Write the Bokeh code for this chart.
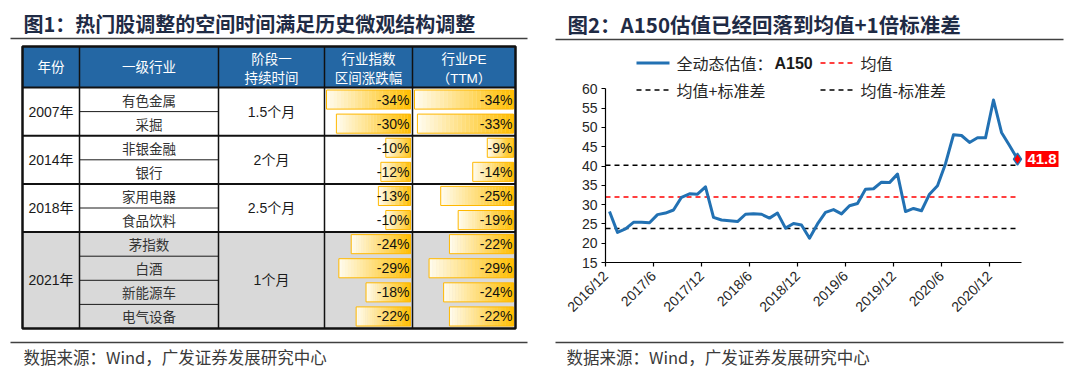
import math
from bokeh.plotting import figure
from bokeh.models import Range1d, LinearAxis, FixedTicker
from bokeh.core.properties import value
from bokeh.embed import file_html
from bokeh.resources import INLINE

# ---------------- data: table (figure 1) ----------------
title1 = "图1：热门股调整的空间时间满足历史微观结构调整"
headers = ["年份", "一级行业", "阶段一\n持续时间", "行业指数\n区间涨跌幅", "行业PE\n（TTM）"]
years = ["2007年", "2014年", "2018年", "2021年"]
year_rows = [2, 2, 2, 4]
durations = ["1.5个月", "2个月", "2.5个月", "1个月"]
industries = ["有色金属", "采掘", "非银金融", "银行", "家用电器", "食品饮料",
              "茅指数", "白酒", "新能源车", "电气设备"]
index_change = [-34, -30, -10, -12, -13, -10, -24, -29, -18, -22]
pe_change = [-34, -33, -9, -14, -25, -19, -22, -29, -24, -22]
highlight_group = 3

# ---------------- data: line chart (figure 2) ----------------
title2 = "图2：A150估值已经回落到均值+1倍标准差"
tick_labels = ["2016/12", "2017/6", "2017/12", "2018/6", "2018/12",
               "2019/6", "2019/12", "2020/6", "2020/12"]
a150_pe = [28.2, 22.8, 23.7, 25.4, 25.4, 25.3, 27.4, 27.8, 28.6, 31.9, 32.8, 32.7, 34.6,
           26.7, 26.0, 25.8, 25.6, 27.5, 27.6, 27.5, 26.5, 27.8, 23.9, 25.1, 24.7, 21.3,
           25.0, 28.0, 28.7, 27.6, 29.7, 30.3, 34.0, 34.1, 35.8, 35.7, 37.9, 28.2, 29.0,
           28.4, 32.7, 34.9, 40.6, 48.1, 47.9, 46.1, 47.3, 47.3, 57.1, 48.7, 45.3, 41.8]
mean_pe = 32.0
std_pe = 8.2
y_ticks = [15, 20, 25, 30, 35, 40, 45, 50, 55, 60]
legend_names = ["全动态估值：", "A150", "均值", "均值+标准差", "均值-标准差"]
source_text = "数据来源：Wind，广发证券发展研究中心"

# ---------------- styles ----------------
CJK = "Noto Sans CJK SC"
LAT = "Liberation Sans, Noto Sans CJK SC"
NAVY = "#1F2B45"
BLUE = "#2271B3"
HEAD_BLUE = "#2467A4"
GRAY = "#D9D9D9"

W, H = 1064, 370
ORIGIN = 0          # reference pixel of canvas origin
AX_X0 = 605.0
PX_MONTH = 8.0
AX_Y15 = 262.0
PX_UNIT = (262.0 - 88.3) / 45.0

p = figure(width=W, height=H,
           x_range=Range1d((ORIGIN - AX_X0) / PX_MONTH, (ORIGIN + W - AX_X0) / PX_MONTH),
           y_range=Range1d(15 - (ORIGIN + H - AX_Y15) / PX_UNIT, 15 + (AX_Y15 - ORIGIN) / PX_UNIT),
           x_axis_type=None, y_axis_type=None, toolbar_location=None,
           output_backend="svg", min_border=0, outline_line_color=None)
p.min_border_left = p.min_border_right = p.min_border_top = p.min_border_bottom = 0
p.background_fill_color = "white"
p.border_fill_color = "white"
p.extra_x_ranges = {"px": Range1d(ORIGIN, ORIGIN + W)}
p.extra_y_ranges = {"px": Range1d(ORIGIN + H, ORIGIN)}
PX = dict(x_range_name="px", y_range_name="px")


def txt(xs, ys, texts, size, color="#333333", font=CJK, align="center", bold=False):
    p.text(x=xs, y=ys, text=texts, text_font=value(font), text_font_size=size,
           text_color=color, text_align=align, text_baseline="middle",
           text_font_style="bold" if bold else "normal", **PX)


def seg(x0, y0, x1, y1, color, width, dash="solid"):
    p.segment(x0=x0, y0=y0, x1=x1, y1=y1, line_color=color, line_width=width,
              line_dash=dash, **PX)


# ---------------- titles, rules, footers ----------------
txt([23], [23], [title1], "20px", NAVY, bold=True, align="left")
txt([567], [23], [title2], "20.5px", NAVY, bold=True, align="left")
seg([10, 555], [38, 39], [527, 1063], [38, 39], "#404040", 1.5)
seg([10, 555], [342, 342], [527, 1063], [342, 342], "#404040", 1.5)
txt([23, 566], [356.5, 356.5], [source_text, source_text], "16.5px", "#3A3A3A", align="left")

# ---------------- table ----------------
COLS = [22, 79, 218, 324, 412, 515]
HEAD_TOP, HEAD_BOT = 46, 87
ROW_H = 24.1
n = len(industries)
row_top = [HEAD_BOT + i * ROW_H for i in range(n)]
row_mid = [t + ROW_H / 2 for t in row_top]
TABLE_BOT = HEAD_BOT + n * ROW_H
g_start = [sum(year_rows[:g]) for g in range(len(year_rows))]
g_end = [g_start[g] + year_rows[g] for g in range(len(year_rows))]

p.quad(left=[COLS[0]], right=[COLS[-1]], top=[HEAD_TOP], bottom=[HEAD_BOT],
       fill_color=HEAD_BLUE, line_color=None, **PX)
hg = highlight_group
p.quad(left=[COLS[0]], right=[COLS[-1]], top=[row_top[g_start[hg]]],
       bottom=[HEAD_BOT + g_end[hg] * ROW_H], fill_color=GRAY, line_color=None, **PX)


def mix(c1, c2, t):
    return "#%02x%02x%02x" % tuple(int(round(a + (b - a) * t)) for a, b in zip(c1, c2))


LIGHT = (255, 252, 240)
GOLD = (255, 190, 0)
NS = 24
ql, qr, qt, qb, qc = [], [], [], [], []
bl_, br_, bt_, bb_ = [], [], [], []
pct_x, pct_y, pct_t = [], [], []
for ci, vals in ((3, index_change), (4, pe_change)):
    cl, cr = COLS[ci], COLS[ci + 1]
    bar_r = cr - 2
    max_len = (cr - cl) - 4
    vmax = max(abs(v) for v in vals)
    for i, v in enumerate(vals):
        L = abs(v) / vmax * max_len
        b_left = bar_r - L
        top, bot = row_top[i] + 2.5, row_top[i] + ROW_H - 2.5
        for j in range(NS):
            ql.append(b_left + L * j / NS)
            qr.append(b_left + L * (j + 1) / NS + 0.3)
            qt.append(top)
            qb.append(bot)
            qc.append(mix(LIGHT, GOLD, (j + 0.5) / NS))
        bl_.append(b_left); br_.append(bar_r); bt_.append(top); bb_.append(bot)
        pct_x.append(cr - 3); pct_y.append(row_mid[i]); pct_t.append(f"{v}%")
p.quad(left=ql, right=qr, top=qt, bottom=qb, fill_color=qc, line_color=None, **PX)
p.quad(left=bl_, right=br_, top=bt_, bottom=bb_, fill_color=None,
       line_color="#FFB800", line_width=1, **PX)

# lines: thin inner lines in industry column
inner = [k for k in range(1, n) if k not in g_start]
seg([COLS[1]] * len(inner), [HEAD_BOT + k * ROW_H for k in inner],
    [COLS[2]] * len(inner), [HEAD_BOT + k * ROW_H for k in inner], "#1a1a1a", 1)
# group separators and header bottom
gl = [HEAD_BOT] + [HEAD_BOT + g_start[g] * ROW_H for g in range(1, len(year_rows))]
seg([COLS[0]] * len(gl), gl, [COLS[-1]] * len(gl), gl, "#111111", 2)
# vertical column lines
vx = COLS[1:-1]
seg(vx, [HEAD_TOP] * len(vx), vx, [TABLE_BOT] * len(vx), "#111111", 1.5)
# outer border
p.quad(left=[COLS[0]], right=[COLS[-1]], top=[HEAD_TOP], bottom=[TABLE_BOT],
       fill_color=None, line_color="#111111", line_width=2.5, **PX)

# header text
hx, hy, ht = [], [], []
for c, h in enumerate(headers):
    cx = (COLS[c] + COLS[c + 1]) / 2
    parts = h.split("\n")
    if len(parts) == 1:
        hx.append(cx); hy.append((HEAD_TOP + HEAD_BOT) / 2); ht.append(parts[0])
    else:
        hx += [cx, cx]; hy += [HEAD_TOP + 12.5, HEAD_BOT - 9.5]; ht += parts
txt(hx, hy, ht, "13.5px", "white", font=LAT)

# body text
cx_ind = (COLS[1] + COLS[2]) / 2
txt([cx_ind] * n, row_mid, industries, "13.5px", "#333333")
gy = [HEAD_BOT + (g_start[g] + g_end[g]) / 2 * ROW_H for g in range(len(years))]
txt([(COLS[0] + COLS[1]) / 2] * len(years), gy, years, "14px", "#1a1a1a", font=LAT)
txt([(COLS[2] + COLS[3]) / 2] * len(years), gy, durations, "14px", "#1a1a1a", font=LAT)
txt(pct_x, pct_y, pct_t, "14px", "#111111", font="Liberation Sans", align="right")

# ---------------- line chart ----------------
xs = [i + 0.5 for i in range(len(a150_pe))]
x_end = xs[-1]
p.line([0, x_end], [mean_pe, mean_pe], line_color="#FF0000", line_width=1.5, line_dash="5 4")
p.line([0, x_end], [mean_pe + std_pe] * 2, line_color="#000000", line_width=1.5, line_dash="5 4")
p.line([0, x_end], [mean_pe - std_pe] * 2, line_color="#000000", line_width=1.5, line_dash="5 4")
p.line(xs, a150_pe, line_color=BLUE, line_width=3, line_join="round")
p.scatter([x_end], [a150_pe[-1]], marker="diamond", size=12, fill_color="#FF0000",
          line_color=BLUE, line_width=1.5)

# value box next to the last point
lx = AX_X0 + x_end * PX_MONTH
ly = AX_Y15 - (a150_pe[-1] - 15) * PX_UNIT
p.rect(x=[lx + 24.5], y=[ly], width=33, height=16, fill_color="#FF0000", line_color=None, **PX)
txt([lx + 24.5], [ly], [f"{a150_pe[-1]}"], "15px", "white", font="Liberation Sans", bold=True)

# axes
yaxis = LinearAxis(fixed_location=0, bounds=(15, 60), ticker=FixedTicker(ticks=y_ticks))
xaxis = LinearAxis(fixed_location=15, bounds=(0, 52),
                   ticker=FixedTicker(ticks=[6 * i for i in range(len(tick_labels))]),
                   major_label_overrides={6 * i: lab for i, lab in enumerate(tick_labels)})
xaxis.major_label_orientation = math.pi / 4
for ax in (yaxis, xaxis):
    ax.axis_line_color = "#000000"
    ax.axis_line_width = 1.2
    ax.major_tick_line_color = "#000000"
    ax.major_tick_line_width = 1.2
    ax.major_tick_in = 0
    ax.major_tick_out = 4
    ax.minor_tick_line_color = None
    ax.major_label_text_font = "Liberation Sans"
    ax.major_label_text_font_size = "14px"
    ax.major_label_text_color = "#262626"
    ax.major_label_standoff = 4
xaxis.major_label_standoff = 7
p.add_layout(yaxis, "left")
p.add_layout(xaxis, "below")

# legend (drawn by hand)
R1, R2 = 62.5, 89.5
seg([636], [R1], [669], [R1], BLUE, 3)
seg([820], [R1], [853], [R1], "#FF0000", 1.5, "5 4")
seg([636, 820], [R2, R2], [669, 853], [R2, R2], "#000000", 1.5, "5 4")
txt([676, 860, 676, 860], [R1, R1, R2, R2],
    [legend_names[0], legend_names[2], legend_names[3], legend_names[4]],
    "16px", "#262626", align="left")
txt([774], [R1], [legend_names[1]], "16px", "#1a1a1a", font="Liberation Sans", align="left", bold=True)

open("out.html", "w").write(file_html(p, INLINE))
